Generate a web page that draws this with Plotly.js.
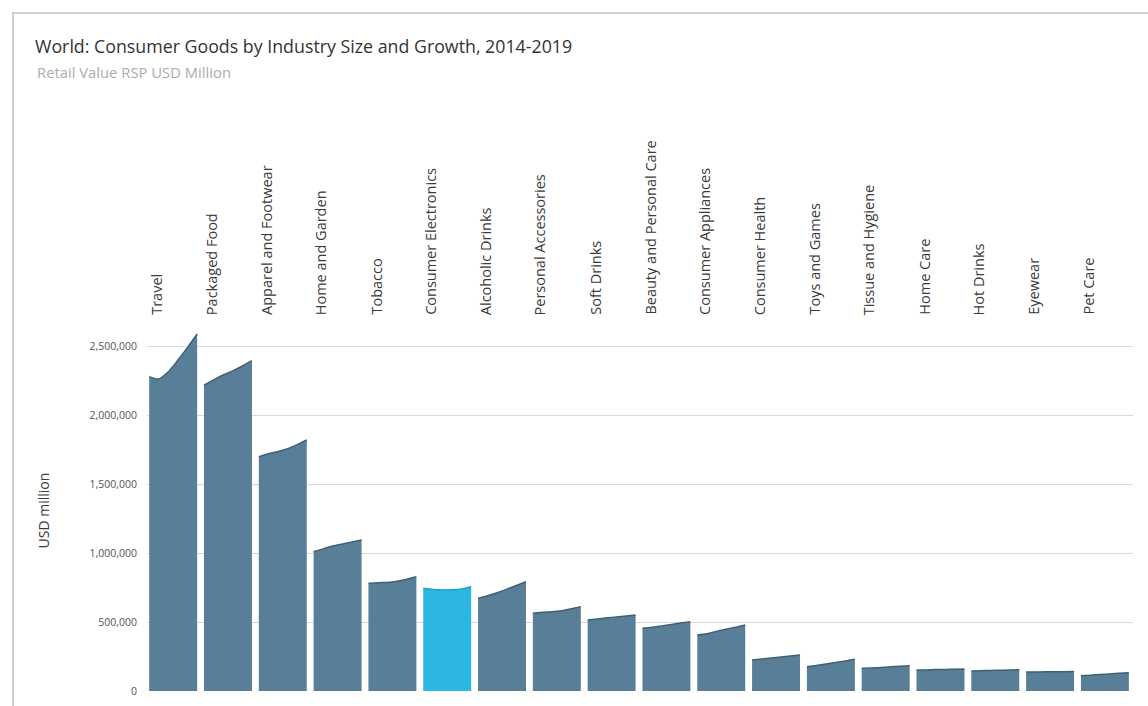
<!DOCTYPE html>
<html>
<head>
<meta charset="utf-8">
<script src="https://cdn.plot.ly/plotly-3.0.1.min.js"></script>
<style>html,body{margin:0;padding:0;background:#fff;}#chart{width:1148px;height:706px;}</style>
</head>
<body>
<div id="chart"></div>
<script>
const categories = ["Travel","Packaged Food","Apparel and Footwear","Home and Garden","Tobacco","Consumer Electronics","Alcoholic Drinks","Personal Accessories","Soft Drinks","Beauty and Personal Care","Consumer Appliances","Consumer Health","Toys and Games","Tissue and Hygiene","Home Care","Hot Drinks","Eyewear","Pet Care"];
const years = [2014, 2015, 2016, 2017, 2018, 2019];
const travel = [2278000, 2261000, 2314000, 2398000, 2490000, 2587000];
const packagedFood = [2217000, 2255000, 2290000, 2320000, 2355000, 2394000];
const apparelFootwear = [1698000, 1720000, 1735000, 1755000, 1785000, 1819000];
const homeGarden = [1010000, 1030000, 1050000, 1065000, 1080000, 1094000];
const tobacco = [780000, 785000, 787000, 795000, 810000, 828000];
const consumerElectronics = [744000, 735000, 732000, 733000, 740000, 756000];
const alcoholicDrinks = [672000, 690000, 712000, 738000, 765000, 792000];
const personalAccessories = [563000, 570000, 574000, 582000, 596000, 611000];
const softDrinks = [514000, 522000, 530000, 537000, 544000, 551000];
const beautyPersonalCare = [454000, 462000, 472000, 482000, 492000, 502000];
const consumerAppliances = [406000, 415000, 432000, 448000, 463000, 478000];
const consumerHealth = [225000, 232000, 240000, 247000, 254000, 261000];
const toysGames = [176000, 185000, 196000, 207000, 218000, 230000];
const tissueHygiene = [164000, 167000, 171000, 175000, 179000, 183000];
const homeCare = [152000, 153000, 155000, 156000, 158000, 159000];
const hotDrinks = [145000, 147000, 149000, 150000, 152000, 154000];
const eyewear = [138000, 138000, 139000, 140000, 140000, 141000];
const petCare = [111000, 115000, 119000, 124000, 128000, 133000];
const highlighted = "Consumer Electronics";

const series = [travel, packagedFood, apparelFootwear, homeGarden, tobacco, consumerElectronics, alcoholicDrinks, personalAccessories, softDrinks, beautyPersonalCare, consumerAppliances, consumerHealth, toysGames, tissueHygiene, homeCare, hotDrinks, eyewear, petCare];

const groupWidth = 0.875;
const traces = [];
const annotations = [];
categories.forEach((cat, i) => {
  const xs = years.map((y, k) => i + k * groupWidth / (years.length - 1));
  const hi = cat === highlighted;
  traces.push({
    type: 'scatter', mode: 'lines', name: cat,
    x: xs, y: series[i],
    fill: 'tozeroy',
    fillcolor: hi ? '#2cb6e2' : '#587e98',
    line: {color: hi ? '#1e9fcc' : '#3e6178', width: 1.5, shape: 'spline', smoothing: 0.8},
    hovertemplate: cat + '<br>%{y:,.0f}<extra></extra>'
  });
  annotations.push({
    x: i + 0.13, xref: 'x', y: 1, yref: 'paper',
    text: cat, showarrow: false, textangle: -90,
    xanchor: 'center', yanchor: 'bottom', yshift: 13,
    font: {family: 'Open Sans, sans-serif', size: 14.5, color: '#3a3a3a'}
  });
});

annotations.push({
  xref: 'paper', yref: 'paper', x: (35 - 147) / 986, y: (691 - 72) / 361,
  xanchor: 'left', yanchor: 'middle', showarrow: false,
  text: 'Retail Value RSP USD Million',
  font: {family: 'Open Sans, sans-serif', size: 14.8, color: '#acacac'}
});

const layout = {
  width: 1148, height: 706,
  margin: {l: 147, r: 15, t: 330, b: 15},
  paper_bgcolor: '#fff', plot_bgcolor: '#fff',
  showlegend: false,
  title: {
    text: 'World: Consumer Goods by Industry Size and Growth, 2014-2019',
    xref: 'container', yref: 'container',
    x: 35 / 1148, xanchor: 'left', y: 1 - 47 / 706, yanchor: 'middle',
    font: {family: 'Open Sans, sans-serif', size: 17.8, color: '#333'}
  },
  xaxis: {
    range: [-0.04, 17.95], showgrid: false, zeroline: false,
    showticklabels: false, ticks: '', showline: false, fixedrange: true
  },
  yaxis: {
    range: [0, 2616000], tickvals: [0, 500000, 1000000, 1500000, 2000000, 2500000],
    tickformat: ',d', showgrid: true, gridcolor: '#d9d9d9', gridwidth: 1,
    zeroline: false, showline: false, ticks: '', ticklabelstandoff: 9,
    tickfont: {family: 'Open Sans, sans-serif', size: 10.5, color: '#555'},
    title: {text: 'USD million', standoff: 36, font: {family: 'Open Sans, sans-serif', size: 14, color: '#3a3a3a'}},
    automargin: false
  },
  annotations: annotations,
  shapes: [{
    type: 'rect', xref: 'paper', yref: 'paper',
    x0: (13 - 147) / 986, x1: 1.3, y0: -0.3, y1: (691 - 13) / 361,
    line: {color: '#cfcfcf', width: 2}, fillcolor: 'rgba(0,0,0,0)', layer: 'below'
  }]
};

Plotly.newPlot('chart', traces, layout, {displayModeBar: false, staticPlot: true});
</script>
</body>
</html>
